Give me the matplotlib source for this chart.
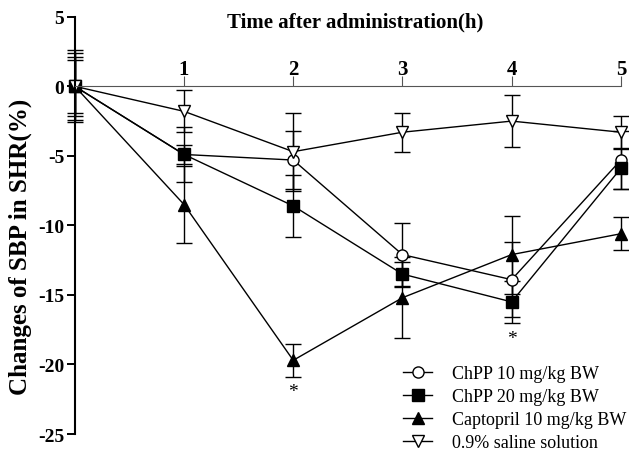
import numpy as np
import matplotlib
matplotlib.use("Agg")
import matplotlib.pyplot as plt
from matplotlib.lines import Line2D

plt.rcParams['font.family'] = ['Liberation Serif', 'DejaVu Serif']

hours = [0, 1, 2, 3, 4, 5]

chpp10 = [0, -4.9, -5.3, -12.1, -13.9, -5.3]
chpp10_err = [2.4, 0.7, 2.1, 2.3, 2.7, 2.1]
chpp20 = [0, -4.9, -8.6, -13.5, -15.5, -5.9]
chpp20_err = [2.1, 2.0, 2.2, 0.85, 1.5, 1.5]
capto = [0, -8.5, -19.7, -15.2, -12.1, -10.6]
capto_err = [1.9, 2.8, 1.2, 2.9, 2.8, 1.2]
saline = [0, -1.8, -4.7, -3.3, -2.5, -3.3]
saline_err = [2.6, 1.5, 2.8, 1.4, 1.85, 1.2]

labels = ["ChPP 10 mg/kg BW", "ChPP 20 mg/kg BW",
          "Captopril 10 mg/kg BW", "0.9% saline solution"]
star_x = [2, 4]
star_y = [-21.95, -18.1]

fig = plt.figure(figsize=(6.29, 4.56), dpi=100)
ax = fig.add_axes([0.119, 0.046, 0.868, 0.915])

styles = [
    (chpp10, chpp10_err, dict(marker='o', mfc='white')),
    (chpp20, chpp20_err, dict(marker='s', mfc='black')),
    (capto, capto_err, dict(marker='^', mfc='black')),
    (saline, saline_err, dict(marker='v', mfc='white')),
]
handles = []
for (vals, err, st), lab in zip(styles, labels):
    ax.errorbar(hours, vals, yerr=err, color='black', lw=1, elinewidth=1,
                capsize=6, capthick=1, ms=8, mec='black', mew=1,
                clip_on=False, **st)
    handles.append(Line2D([], [], color='black', lw=1, ms=8, mec='black',
                          mew=1, label=lab, **st))

for x, y in zip(star_x, star_y):
    ax.text(x, y, '*', ha='center', va='center', fontsize=14)

ax.set_xlim(0, 5)
ax.set_ylim(-25, 5)
ax.spines['bottom'].set_visible(False)
ax.spines['right'].set_visible(False)
ax.spines['top'].set_position(('data', 0))
ax.spines['top'].set_color('#555555')
ax.spines['left'].set_linewidth(1.5)

ax.xaxis.set_ticks_position('top')
ax.set_xticks([1, 2, 3, 4, 5])
ax.tick_params(axis='x', direction='out', length=7, pad=-2, labelsize=15,
               color='#555555')
for lab in ax.get_xticklabels():
    lab.set_fontweight('bold')

ax.set_yticks([5, 0, -5, -10, -15, -20, -25])
ax.set_yticklabels(['5', '0', '-5', '-10', '-15', '-20', '-25'])
ax.tick_params(axis='y', length=6, width=1.4, labelsize=14, pad=1.5)
for lab in ax.get_yticklabels():
    lab.set_fontweight('bold')

ax.set_ylabel('Changes of SBP in SHR(%)', fontsize=18, fontweight='bold')
ax.yaxis.set_label_coords(-0.078, 0.45)
fig.text(0.565, 0.950, 'Time after administration(h)', ha='center', va='center',
         fontsize=15, fontweight='bold')

ax.legend(handles=handles, loc='lower right', frameon=False, fontsize=13,
          handlelength=1.6, handletextpad=1.1, bbox_to_anchor=(1.04, -0.08),
          labelspacing=0.33)

fig.savefig('out.png', dpi=100)
